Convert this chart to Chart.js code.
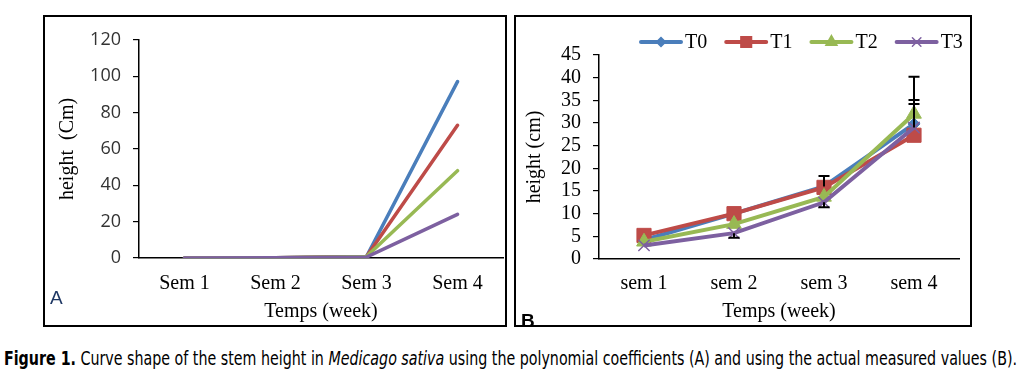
<!DOCTYPE html>
<html>
<head>
<meta charset="utf-8">
<script src="https://cdn.jsdelivr.net/npm/chart.js@4.4.0/dist/chart.umd.min.js"></script>
<style>
  html, body { margin:0; padding:0; background:#fff; width:1025px; height:378px; overflow:hidden; }
  .panel { position:absolute; top:15px; height:308px; border:2px solid #000; overflow:hidden; background:#fff; }
  #pA { left:43px; width:460px; }
  #pB { left:514px; width:454px; }
  .panel canvas { position:absolute; left:0; top:0; }
  .tag { position:absolute; font-size:19px; line-height:19px; z-index:2; }
  #caption { position:absolute; left:4px; top:349px; font-family:"Liberation Sans Narrow","DejaVu Sans Condensed","Liberation Sans",sans-serif; font-size:19px; line-height:19px; white-space:nowrap; transform-origin:0 0; color:#000; }
</style>
</head>
<body>
<div class="panel" id="pA"><canvas id="cA" width="460" height="308"></canvas>
  <div class="tag" style="left:5px;top:271px;font-family:'Liberation Sans',sans-serif;color:#1f3864;">A</div>
</div>
<div class="panel" id="pB"><canvas id="cB" width="454" height="308"></canvas>
  <div class="tag" style="left:5px;top:294px;font-family:'Liberation Sans',sans-serif;font-weight:bold;color:#000;">B</div>
</div>
<div id="caption"><b>Figure 1.</b> Curve shape of the stem height in <i>Medicago sativa</i> using the polynomial coefficients (A) and using the actual measured values (B).</div>
<script>
// ---------- DATA ----------
const catsA = ["Sem 1", "Sem 2", "Sem 3", "Sem 4"];
const a_T0 = [0, 0.1, 0.8, 97];
const a_T1 = [0, 0.1, 0.8, 73];
const a_T2 = [0, 0.1, 0.8, 48];
const a_T3 = [0, 0.1, 0.5, 24];

const catsB = ["sem 1", "sem 2", "sem 3", "sem 4"];
const seriesNames = ["T0", "T1", "T2", "T3"];
const b_T0 = [4.2, 10.0, 16.0, 29.8];
const b_T1 = [5.2, 10.0, 15.8, 27.3];
const b_T2 = [3.8, 7.7, 13.7, 32.0];
const b_T3 = [3.0, 5.7, 12.5, 29.0];
const errPlus_T0 = [0, 0, 2.3, 5.3];
const errPlus_T1 = [0, 0, 0, 0];
const errPlus_T2 = [0, 0, 0, 8.2];
const errPlus_T3 = [0, 0, 0, 5.2];
const errMinus_T0 = [0, 0, 0, 0];
const errMinus_T1 = [0, 0, 0, 0];
const errMinus_T2 = [0, 0, 0, 0];
const errMinus_T3 = [0, 1.0, 1.1, 0];

const yTicksA = { min: 0, max: 120, step: 20 };
const yTicksB = { min: 0, max: 45, step: 5 };

// ---------- STYLE ----------
const colors = ["#4a7ebb", "#be4b48", "#98b954", "#7d60a0"];
const serif = "Liberation Serif";

Chart.defaults.animation = false;
Chart.defaults.devicePixelRatio = 1;

// ---------- CHART A ----------
const dataA = [a_T0, a_T1, a_T2, a_T3];
new Chart(document.getElementById('cA'), {
  type: 'line',
  data: {
    labels: catsA,
    datasets: dataA.map((d, i) => ({
      label: seriesNames[i], data: d, borderColor: colors[i], backgroundColor: colors[i],
      borderWidth: 3.5, pointRadius: 0, tension: 0, order: 4 - i, borderCapStyle: 'round'
    }))
  },
  options: {
    responsive: false, animation: false,
    layout: { padding: { left: 0, right: 2, top: 20, bottom: 0 } },
    plugins: { legend: { display: false }, tooltip: { enabled: false } },
    scales: {
      x: {
        offset: true,
        grid: { display: true, drawOnChartArea: false, drawTicks: false },
        border: { color: '#000', width: 1.5 },
        ticks: { font: { family: serif, size: 20 }, color: '#000', padding: 14 },
        title: { display: true, text: 'Temps (week)', font: { family: serif, size: 20 }, color: '#000', padding: { top: 0, bottom: 1 } },
        afterFit(s) { s.height = 67; }
      },
      y: {
        min: yTicksA.min, max: yTicksA.max,
        ticks: { stepSize: yTicksA.step, autoSkip: false, font: { family: 'Open Sans', size: 18 }, color: '#333', padding: 12 },
        grid: { drawOnChartArea: false, tickLength: 6, color: '#000', lineWidth: 1.2 },
        border: { color: '#000', width: 1.5 },
        title: { display: true, text: 'height  (Cm)', font: { family: serif, size: 20 }, color: '#000', padding: { top: 11, bottom: 0 } },
        afterFit(s) { s.width = 94; }
      }
    }
  }
});

// ---------- CHART B ----------
const dataB = [b_T0, b_T1, b_T2, b_T3];
const errPlus = [errPlus_T0, errPlus_T1, errPlus_T2, errPlus_T3];
const errMinus = [errMinus_T0, errMinus_T1, errMinus_T2, errMinus_T3];
const pStyles = ['rectRot', 'rect', 'triangle', 'crossRot'];
const pRadius = [6, 10, 8.5, 8];

const errorBarPlugin = {
  id: 'errbars',
  afterDatasetsDraw(chart) {
    const ctx = chart.ctx, ys = chart.scales.y;
    ctx.save();
    ctx.strokeStyle = '#000'; ctx.lineWidth = 2;
    chart.data.datasets.forEach((ds, i) => {
      const meta = chart.getDatasetMeta(i);
      meta.data.forEach((pt, j) => {
        const v = ds.data[j];
        const x = pt.x;
        const y0 = ys.getPixelForValue(v);
        ctx.beginPath();
        if (errPlus[i][j] > 0) {
          const top = ys.getPixelForValue(v + errPlus[i][j]);
          ctx.moveTo(x, y0); ctx.lineTo(x, top);
          ctx.moveTo(x - 5.5, top); ctx.lineTo(x + 5.5, top);
        }
        if (errMinus[i][j] > 0) {
          const bot = ys.getPixelForValue(v - errMinus[i][j]);
          ctx.moveTo(x, y0); ctx.lineTo(x, bot);
          ctx.moveTo(x - 5.5, bot); ctx.lineTo(x + 5.5, bot);
        }
        ctx.stroke();
      });
    });
    ctx.restore();
  }
};

const customLegend = {
  id: 'customLegend',
  afterDraw(chart) {
    const ctx = chart.ctx;
    const y = 25;
    let x = chart.chartArea.left + 40;
    ctx.save();
    ctx.font = '20px "' + serif + '"';
    ctx.textBaseline = 'middle';
    chart.data.datasets.forEach((ds, i) => {
      ctx.strokeStyle = colors[i]; ctx.lineWidth = 4; ctx.lineCap = 'round';
      ctx.beginPath(); ctx.moveTo(x + 2, y); ctx.lineTo(x + 42, y); ctx.stroke();
      ctx.fillStyle = colors[i]; ctx.strokeStyle = colors[i]; ctx.lineWidth = 1.5;
      Chart.helpers.drawPoint(ctx, { pointStyle: pStyles[i], radius: pRadius[i] * 0.75, rotation: 0, borderWidth: 1.5 }, x + 22, y);
      ctx.fillStyle = '#000';
      ctx.fillText(ds.label, x + 46, y + 1);
      x += 46 + ctx.measureText(ds.label).width + 17;
    });
    ctx.restore();
  }
};

new Chart(document.getElementById('cB'), {
  type: 'line',
  data: {
    labels: catsB,
    datasets: dataB.map((d, i) => ({
      label: seriesNames[i], data: d, borderColor: colors[i], backgroundColor: colors[i],
      borderWidth: 4, tension: 0, order: 4 - i,
      pointStyle: pStyles[i], pointRadius: pRadius[i], pointBorderWidth: i === 3 ? 1.5 : 1,
      pointBackgroundColor: colors[i], pointBorderColor: colors[i]
    }))
  },
  options: {
    responsive: false, animation: false,
    layout: { padding: { left: 0, right: 2, top: 38, bottom: 0 } },
    plugins: { legend: { display: false }, tooltip: { enabled: false } },
    scales: {
      x: {
        offset: true,
        grid: { display: true, drawOnChartArea: false, drawTicks: false },
        border: { color: '#000', width: 1.5 },
        ticks: { font: { family: serif, size: 20 }, color: '#000', padding: 13 },
        title: { display: true, text: 'Temps (week)', font: { family: serif, size: 20 }, color: '#000', padding: { top: 0, bottom: 1 } },
        afterFit(s) { s.height = 66; }
      },
      y: {
        min: yTicksB.min, max: yTicksB.max,
        ticks: { stepSize: yTicksB.step, autoSkip: false, font: { family: serif, size: 20 }, color: '#000', padding: 12 },
        grid: { drawOnChartArea: false, tickLength: 6, color: '#000', lineWidth: 1.2 },
        border: { color: '#000', width: 1.5 },
        title: { display: true, text: 'height (cm)', font: { family: serif, size: 20 }, color: '#000', padding: { top: 6.5, bottom: 0 } },
        afterFit(s) { s.width = 83; }
      }
    }
  },
  plugins: [errorBarPlugin, customLegend]
});

// fit caption width
const cap = document.getElementById('caption');
const w = cap.getBoundingClientRect().width;
cap.style.transform = 'scaleX(' + (1013 / w) + ')';
</script>
</body>
</html>
